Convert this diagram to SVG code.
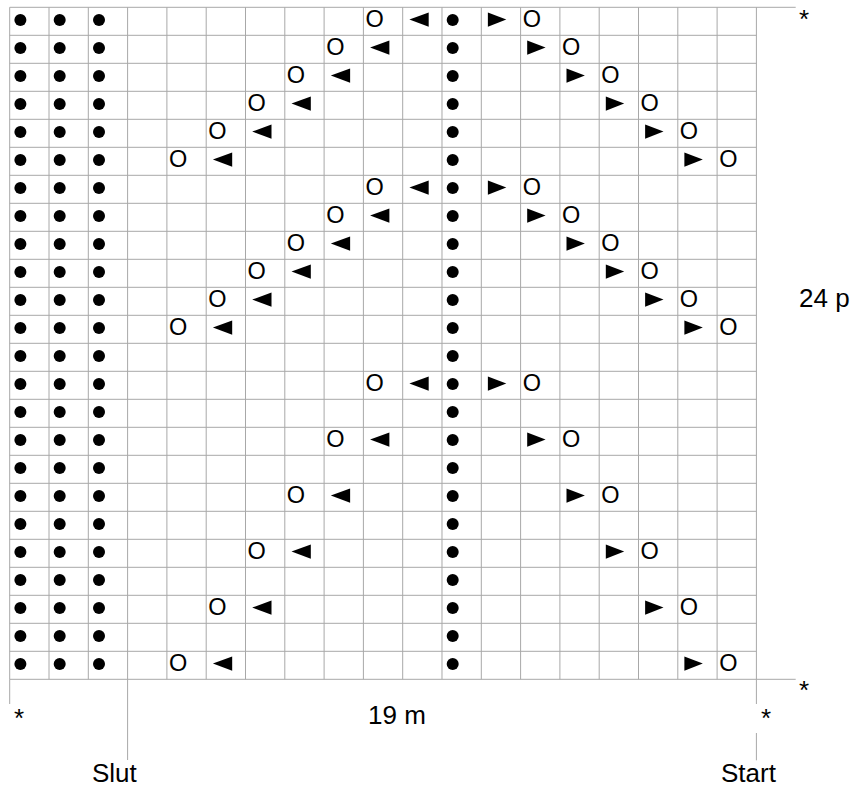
<svg xmlns="http://www.w3.org/2000/svg" xmlns:xlink="http://www.w3.org/1999/xlink" width="858" height="791" viewBox="0 0 858 791">
<style>
.grid{fill:none;stroke:#a8a8a8;stroke-width:1}
.lbl{font-family:"Liberation Sans",Arial,sans-serif;font-size:26px;fill:#000}
.o{font-family:"Liberation Sans",Arial,sans-serif;font-size:23.5px;fill:#000;text-anchor:middle}
</style>
<defs>
<circle id="d" cx="10.7" cy="12.7" r="6" fill="#000"/>
<polygon id="tl" points="6.7,12.3 26,5.2 26,19.4" fill="#000"/>
<polygon id="tr" points="6.6,5.2 6.6,19.4 25,12.3" fill="#000"/>
<g id="dr"><use xlink:href="#d" x="0"/><use xlink:href="#d" x="39.3"/><use xlink:href="#d" x="78.6"/><use xlink:href="#d" x="432.3"/></g>
</defs>
<g id="chart" transform="translate(9.7,7.3)">
<g id="gridlines">
<path class="grid" d="M0 0V672 M39.3 0V672 M78.6 0V672 M117.9 0V672 M157.2 0V672 M196.5 0V672 M235.8 0V672 M275.1 0V672 M314.4 0V672 M353.7 0V672 M393 0V672 M432.3 0V672 M471.6 0V672 M510.9 0V672 M550.2 0V672 M589.5 0V672 M628.8 0V672 M668.1 0V672 M707.4 0V672 M746.7 0V672
M0 0H786 M0 28H746.7 M0 56H746.7 M0 84H746.7 M0 112H746.7 M0 140H746.7 M0 168H746.7 M0 196H746.7 M0 224H746.7 M0 252H746.7 M0 280H746.7 M0 308H746.7 M0 336H746.7 M0 364H746.7 M0 392H746.7 M0 420H746.7 M0 448H746.7 M0 476H746.7 M0 504H746.7 M0 532H746.7 M0 560H746.7 M0 588H746.7 M0 616H746.7 M0 644H746.7 M0 672H786
M0 672V696.7 M117.9 672V752.7 M746.7 672V696.7 M746.7 725.7V753"/>
</g>
<g id="dots">
<use xlink:href="#dr" y="0"/><use xlink:href="#dr" y="28"/><use xlink:href="#dr" y="56"/><use xlink:href="#dr" y="84"/><use xlink:href="#dr" y="112"/><use xlink:href="#dr" y="140"/><use xlink:href="#dr" y="168"/><use xlink:href="#dr" y="196"/><use xlink:href="#dr" y="224"/><use xlink:href="#dr" y="252"/><use xlink:href="#dr" y="280"/><use xlink:href="#dr" y="308"/><use xlink:href="#dr" y="336"/><use xlink:href="#dr" y="364"/><use xlink:href="#dr" y="392"/><use xlink:href="#dr" y="420"/><use xlink:href="#dr" y="448"/><use xlink:href="#dr" y="476"/><use xlink:href="#dr" y="504"/><use xlink:href="#dr" y="532"/><use xlink:href="#dr" y="560"/><use xlink:href="#dr" y="588"/><use xlink:href="#dr" y="616"/><use xlink:href="#dr" y="644"/>
</g>
<g id="triangles">
<use xlink:href="#tl" x="393" y="0"/><use xlink:href="#tr" x="471.6" y="0"/>
<use xlink:href="#tl" x="353.7" y="28"/><use xlink:href="#tr" x="510.9" y="28"/>
<use xlink:href="#tl" x="314.4" y="56"/><use xlink:href="#tr" x="550.2" y="56"/>
<use xlink:href="#tl" x="275.1" y="84"/><use xlink:href="#tr" x="589.5" y="84"/>
<use xlink:href="#tl" x="235.8" y="112"/><use xlink:href="#tr" x="628.8" y="112"/>
<use xlink:href="#tl" x="196.5" y="140"/><use xlink:href="#tr" x="668.1" y="140"/>
<use xlink:href="#tl" x="393" y="168"/><use xlink:href="#tr" x="471.6" y="168"/>
<use xlink:href="#tl" x="353.7" y="196"/><use xlink:href="#tr" x="510.9" y="196"/>
<use xlink:href="#tl" x="314.4" y="224"/><use xlink:href="#tr" x="550.2" y="224"/>
<use xlink:href="#tl" x="275.1" y="252"/><use xlink:href="#tr" x="589.5" y="252"/>
<use xlink:href="#tl" x="235.8" y="280"/><use xlink:href="#tr" x="628.8" y="280"/>
<use xlink:href="#tl" x="196.5" y="308"/><use xlink:href="#tr" x="668.1" y="308"/>
<use xlink:href="#tl" x="393" y="364"/><use xlink:href="#tr" x="471.6" y="364"/>
<use xlink:href="#tl" x="353.7" y="420"/><use xlink:href="#tr" x="510.9" y="420"/>
<use xlink:href="#tl" x="314.4" y="476"/><use xlink:href="#tr" x="550.2" y="476"/>
<use xlink:href="#tl" x="275.1" y="532"/><use xlink:href="#tr" x="589.5" y="532"/>
<use xlink:href="#tl" x="235.8" y="588"/><use xlink:href="#tr" x="628.8" y="588"/>
<use xlink:href="#tl" x="196.5" y="644"/><use xlink:href="#tr" x="668.1" y="644"/>
</g>
<g id="yarnovers">
<text class="o" x="364.9" y="19.5">O</text><text class="o" x="522.1" y="19.5">O</text>
<text class="o" x="325.6" y="47.5">O</text><text class="o" x="561.4" y="47.5">O</text>
<text class="o" x="286.3" y="75.5">O</text><text class="o" x="600.7" y="75.5">O</text>
<text class="o" x="247" y="103.5">O</text><text class="o" x="640" y="103.5">O</text>
<text class="o" x="207.7" y="131.5">O</text><text class="o" x="679.3" y="131.5">O</text>
<text class="o" x="168.4" y="159.5">O</text><text class="o" x="718.6" y="159.5">O</text>
<text class="o" x="364.9" y="187.5">O</text><text class="o" x="522.1" y="187.5">O</text>
<text class="o" x="325.6" y="215.5">O</text><text class="o" x="561.4" y="215.5">O</text>
<text class="o" x="286.3" y="243.5">O</text><text class="o" x="600.7" y="243.5">O</text>
<text class="o" x="247" y="271.5">O</text><text class="o" x="640" y="271.5">O</text>
<text class="o" x="207.7" y="299.5">O</text><text class="o" x="679.3" y="299.5">O</text>
<text class="o" x="168.4" y="327.5">O</text><text class="o" x="718.6" y="327.5">O</text>
<text class="o" x="364.9" y="383.5">O</text><text class="o" x="522.1" y="383.5">O</text>
<text class="o" x="325.6" y="439.5">O</text><text class="o" x="561.4" y="439.5">O</text>
<text class="o" x="286.3" y="495.5">O</text><text class="o" x="600.7" y="495.5">O</text>
<text class="o" x="247" y="551.5">O</text><text class="o" x="640" y="551.5">O</text>
<text class="o" x="207.7" y="607.5">O</text><text class="o" x="679.3" y="607.5">O</text>
<text class="o" x="168.4" y="663.5">O</text><text class="o" x="718.6" y="663.5">O</text>
</g>
</g>
<g id="labels">
<text class="lbl" x="799" y="307">24 p</text>
<text class="lbl" x="368" y="724">19 m</text>
<text class="lbl" x="92" y="782">Slut</text>
<text class="lbl" x="721" y="782">Start</text>
<text class="lbl" x="799" y="28">*</text>
<text class="lbl" x="799" y="699">*</text>
<text class="lbl" x="14" y="727">*</text>
<text class="lbl" x="761" y="727">*</text>
</g>
</svg>
